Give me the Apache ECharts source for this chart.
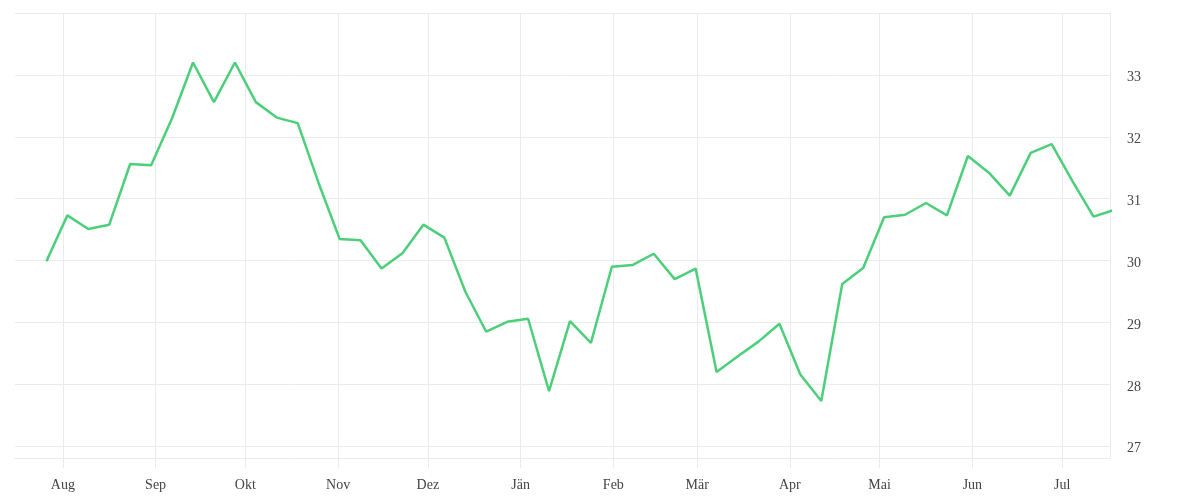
<!DOCTYPE html>
<html>
<head>
<meta charset="utf-8">
<script src="https://cdn.jsdelivr.net/npm/echarts@6/dist/echarts.min.js"></script>
<style>
html,body{margin:0;padding:0;background:#fff;}
#chart{width:1200px;height:500px;}
</style>
</head>
<body>
<div id="chart"></div>
<script>
const dates = [
  '2022-07-26','2022-08-02','2022-08-09','2022-08-16','2022-08-23','2022-08-30',
  '2022-09-06','2022-09-13','2022-09-20','2022-09-27','2022-10-04','2022-10-11',
  '2022-10-18','2022-10-25','2022-11-01','2022-11-08','2022-11-15','2022-11-22',
  '2022-11-29','2022-12-06','2022-12-13','2022-12-20','2022-12-27','2023-01-03',
  '2023-01-10','2023-01-17','2023-01-24','2023-01-31','2023-02-07','2023-02-14',
  '2023-02-21','2023-02-28','2023-03-07','2023-03-14','2023-03-21','2023-03-28',
  '2023-04-04','2023-04-11','2023-04-18','2023-04-25','2023-05-02','2023-05-09',
  '2023-05-16','2023-05-23','2023-05-30','2023-06-06','2023-06-13','2023-06-20',
  '2023-06-27','2023-07-04','2023-07-11','2023-07-18'
];
const values = [
  29.99, 30.73, 30.51, 30.58, 31.56, 31.54,
  32.30, 33.20, 32.56, 33.20, 32.56, 32.31,
  32.22, 31.25, 30.35, 30.33, 29.87, 30.12,
  30.58, 30.37, 29.50, 28.85, 29.01, 29.06,
  27.89, 29.02, 28.67, 29.90, 29.93, 30.11,
  29.70, 29.87, 28.20, 28.45, 28.69, 28.98,
  28.16, 27.73, 29.62, 29.88, 30.70, 30.74,
  30.93, 30.73, 31.69, 31.42, 31.05, 31.74,
  31.88, 31.28, 30.71, 30.82
];
const monthTicks = [
  '2022-08-01','2022-09-01','2022-10-01','2022-11-01','2022-12-01','2023-01-01',
  '2023-02-01','2023-03-01','2023-04-01','2023-05-01','2023-06-01','2023-07-01'
];
const monthLabels = ['Aug','Sep','Okt','Nov','Dez','Jän','Feb','Mär','Apr','Mai','Jun','Jul'];
const yTickLabels = [27, 28, 29, 30, 31, 32, 33];
const yGridValues = [27, 28, 29, 30, 31, 32, 33, 34];

function ts(s) { return new Date(s + 'T00:00:00Z').getTime(); }
const HALF_DAY = 12 * 3600 * 1000;
const tickTimes = monthTicks.map(ts);
const gridColor = '#ebebeb';
const textColor = '#444';
const font = '"Liberation Serif", serif';

const chart = echarts.init(document.getElementById('chart'), null, {renderer: 'canvas'});
chart.setOption({
  animation: false,
  grid: {left: 15, right: 90, top: 13, bottom: 42, containLabel: false},
  xAxis: {
    type: 'value',
    min: ts('2022-07-16'),
    max: ts('2023-07-17'),
    axisLine: {show: true, lineStyle: {color: gridColor, width: 1}},
    axisTick: {show: true, length: 10, customValues: tickTimes, lineStyle: {color: gridColor, width: 1}},
    splitLine: {show: true, lineStyle: {color: gridColor, width: 1}},
    axisLabel: {
      customValues: tickTimes,
      margin: 20,
      color: textColor,
      fontFamily: font,
      fontSize: 14,
      formatter: function (v) {
        let best = 0, bd = Infinity;
        for (let i = 0; i < tickTimes.length; i++) {
          const d = Math.abs(tickTimes[i] - v);
          if (d < bd) { bd = d; best = i; }
        }
        return monthLabels[best];
      }
    }
  },
  yAxis: {
    type: 'value',
    position: 'right',
    min: 26.81,
    max: 34,
    axisLine: {show: true, lineStyle: {color: gridColor, width: 1}},
    axisTick: {show: false, customValues: yGridValues},
    splitLine: {show: true, lineStyle: {color: gridColor, width: 1}},
    axisLabel: {
      customValues: yTickLabels,
      margin: 17,
      color: textColor,
      fontFamily: font,
      fontSize: 14,
      formatter: function (v) { return '{a|' + v + '}'; },
      rich: {
        a: {
          fontFamily: font,
          fontSize: 14,
          color: textColor,
          padding: [5, 0, 0, 0]
        }
      }
    }
  },
  series: [{
    type: 'line',
    data: dates.map((d, i) => [ts(d) + HALF_DAY, values[i]]),
    showSymbol: false,
    symbol: 'none',
    clip: true,
    lineStyle: {color: '#4ccf7b', width: 2.5},
    itemStyle: {color: '#4ccf7b'}
  }]
});
</script>
</body>
</html>
